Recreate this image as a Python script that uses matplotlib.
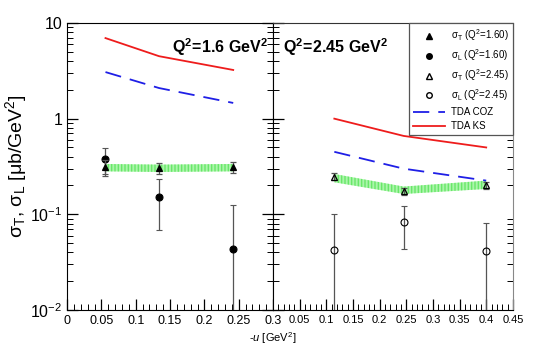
import numpy as np
import matplotlib
matplotlib.use("Agg")
import matplotlib.pyplot as plt
from matplotlib.lines import Line2D
from matplotlib.ticker import MultipleLocator, LogLocator, NullFormatter

plt.rcParams["font.family"] = ["Liberation Sans", "DejaVu Sans"]
plt.rcParams["mathtext.fontset"] = "custom"
plt.rcParams["mathtext.rm"] = "Liberation Sans"
plt.rcParams["mathtext.it"] = "Liberation Sans:italic"
plt.rcParams["mathtext.bf"] = "Liberation Sans:bold"
plt.rcParams["mathtext.default"] = "regular"

# --- Q^2 = 1.6 GeV^2 ---
u_lo = [0.056, 0.134, 0.242]
sigT_lo = [0.31, 0.303, 0.31]
sigT_lo_err = [0.06, 0.037, 0.038]
sigL_lo = [0.379, 0.151, 0.0435]
sigL_lo_err = [0.115, 0.083, 0.0815]
ks_lo = [6.96, 4.5, 3.23]
coz_lo = [3.07, 2.09, 1.46]
band_lo_low = [0.281, 0.277, 0.281]
band_lo_high = [0.336, 0.331, 0.336]

# --- Q^2 = 2.45 GeV^2 ---
u_hi = [0.115, 0.245, 0.40]
sigT_hi = [0.248, 0.175, 0.20]
sigT_hi_err = [0.02, 0.015, 0.016]
sigL_hi = [0.0428, 0.0826, 0.041]
sigL_hi_err = [0.058, 0.039, 0.040]
ks_hi = [1.0, 0.66, 0.50]
coz_hi = [0.45, 0.30, 0.225]
band_hi_low = [0.216, 0.163, 0.184]
band_hi_high = [0.264, 0.195, 0.225]

RED = "#ee1c1c"
BLUE = "#1f1fe6"
GREEN = "#66ee66"
ERRC = "#555555"

fig = plt.figure(figsize=(5.45, 3.49), dpi=100)
ax1 = fig.add_axes([0.123, 0.112, 0.378, 0.822])
ax2 = fig.add_axes([0.501, 0.112, 0.440, 0.822])


def lower(vals, errs):
    # keep the lower error bar positive for the log scale
    v = np.array(vals)
    e = np.array(errs)
    return np.minimum(e, v * 0.99)


def panel(ax, u, sT, sTe, sL, sLe, ks, coz, blo, bhi, open_marker):
    ax.fill_between(u, blo, bhi, facecolor=GREEN, alpha=0.55, linewidth=0,
                    hatch="|||||", edgecolor="#33dd33", zorder=1)
    ax.plot(u, ks, color=RED, lw=1.3, zorder=2)
    ax.plot(u, coz, color=BLUE, lw=1.3, dashes=(9, 5), zorder=2)
    fc = "none" if open_marker else "black"
    ax.errorbar(u, sL, yerr=[lower(sL, sLe), sLe], fmt="o", ms=5, mfc=fc,
                mec="black", mew=0.8, ecolor=ERRC, elinewidth=0.9, capsize=2,
                capthick=0.8, zorder=3)
    ax.errorbar(u, sT, yerr=[lower(sT, sTe), sTe], fmt="^", ms=5, mfc=fc,
                mec="black", mew=0.9, ecolor=ERRC, elinewidth=0.9, capsize=2,
                capthick=0.8, zorder=4)
    ax.set_yscale("log")
    ax.set_ylim(0.01, 10)
    ax.xaxis.set_major_locator(MultipleLocator(0.05))
    ax.xaxis.set_minor_locator(MultipleLocator(0.01))
    ax.yaxis.set_minor_locator(LogLocator(base=10, subs=np.arange(2, 10)))
    ax.yaxis.set_minor_formatter(NullFormatter())
    ax.tick_params(which="both", direction="in", top=False, right=True,
                   labelsize=9)
    ax.tick_params(which="major", length=8, width=0.9)
    ax.tick_params(which="minor", length=4, width=0.7)


panel(ax1, u_lo, sigT_lo, sigT_lo_err, sigL_lo, sigL_lo_err, ks_lo, coz_lo,
      band_lo_low, band_lo_high, False)
panel(ax2, u_hi, sigT_hi, sigT_hi_err, sigL_hi, sigL_hi_err, ks_hi, coz_hi,
      band_hi_low, band_hi_high, True)

ax1.set_xlim(0, 0.3)
ax1.set_xticks([0, 0.05, 0.1, 0.15, 0.2, 0.25, 0.3])
ax1.set_xticklabels(["0", "0.05", "0.1", "0.15", "0.2", "0.25", "0.3"])
ax1.set_yticks([0.01, 0.1, 1, 10])
ax1.set_yticklabels(["$10^{-2}$", "$10^{-1}$", "1", "10"])
ax1.tick_params(axis="y", labelsize=11.5)

ax2.set_xlim(0, 0.45)
ax2.set_xticks([0.05, 0.1, 0.15, 0.2, 0.25, 0.3, 0.35, 0.4, 0.45])
ax2.set_xticklabels(["0.05", "0.1", "0.15", "0.2", "0.25", "0.3", "0.35",
                     "0.4", "0.45"])
ax2.tick_params(axis="y", labelleft=False, right=False)
ax2.tick_params(axis="x", labelsize=8)
ax2.spines["right"].set_color("#888888")
ax2.spines["top"].set_color("#333333")

ax1.set_ylabel(r"σ$_T$, σ$_L$ [μb/GeV$^2$]", fontsize=14, labelpad=1)
fig.text(0.5, 0.02, r"-$\it{u}$ [GeV$^2$]", ha="center", fontsize=8)

ax1.text(0.975, 0.955, r"$\mathbf{Q^2\!=\!1.6\ GeV^2}$",
         transform=ax1.transAxes, ha="right", va="top", fontsize=11.5)
ax2.text(0.04, 0.955, r"$\mathbf{Q^2\!=\!2.45\ GeV^2}$",
         transform=ax2.transAxes, ha="left", va="top", fontsize=11.5)

handles = [
    Line2D([], [], ls="none", marker="^", ms=4, mfc="black", mec="black"),
    Line2D([], [], ls="none", marker="o", ms=4, mfc="black", mec="black"),
    Line2D([], [], ls="none", marker="^", ms=4, mfc="none", mec="black"),
    Line2D([], [], ls="none", marker="o", ms=4, mfc="none", mec="black"),
    Line2D([], [], color=BLUE, lw=1.3, dashes=(9, 5)),
    Line2D([], [], color=RED, lw=1.3),
]
labels = [
    r"σ$_T$ (Q$^2$=1.60)",
    r"σ$_L$ (Q$^2$=1.60)",
    r"σ$_T$ (Q$^2$=2.45)",
    r"σ$_L$ (Q$^2$=2.45)",
    "TDA COZ",
    "TDA KS",
]
leg = ax2.legend(handles, labels, loc="upper right", bbox_to_anchor=(1, 1),
                 borderaxespad=0, fontsize=7, frameon=True, fancybox=False,
                 edgecolor="#555555", framealpha=1, handlelength=3.3,
                 handletextpad=0.6, labelspacing=0.42, borderpad=0.45)
leg.get_frame().set_linewidth(0.9)

fig.savefig("out.png", dpi=100)
